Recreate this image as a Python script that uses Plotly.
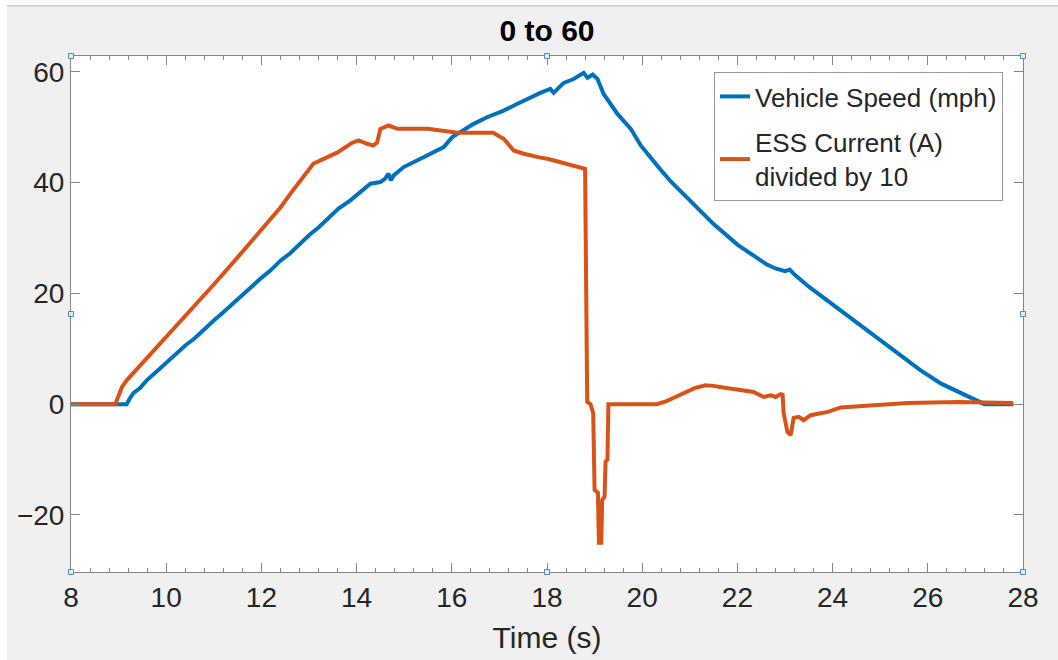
import plotly.graph_objects as go

# Vehicle speed trace (time in s, speed in mph)
speed_t = [8.0, 9.17, 9.24, 9.31, 9.45, 9.59, 9.8, 10.0, 10.2, 10.4, 10.6, 10.8, 11.0,
           11.2, 11.4, 11.6, 11.8, 12.0, 12.2, 12.4, 12.6, 12.8, 13.0, 13.2, 13.4,
           13.62, 13.87, 14.08, 14.18, 14.29, 14.5, 14.6, 14.67, 14.72, 14.78, 14.99,
           15.27, 15.55, 15.83, 16.01, 16.22, 16.46, 16.74, 17.09, 17.37, 17.51, 17.86,
           18.07, 18.14, 18.35, 18.56, 18.77, 18.85, 18.96, 19.06, 19.19, 19.48, 19.76,
           19.97, 20.35, 20.6, 21.0, 21.5, 22.0, 22.3, 22.6, 22.8, 23.0, 23.1, 23.2,
           23.5, 24.0, 24.5, 25.0, 25.5, 25.85, 26.28, 26.7, 26.98, 27.19, 27.8]
speed_mph = [0.0, 0.0, 1.1, 2.0, 2.9, 4.3, 5.9, 7.5, 8.9, 10.6, 11.9, 13.6, 15.1,
             16.6, 18.2, 19.6, 21.2, 22.8, 24.2, 25.9, 27.2, 28.9, 30.5, 31.9, 33.6,
             35.3, 36.8, 38.3, 38.9, 39.8, 40.1, 40.7, 41.6, 40.4, 41.3, 42.8,
             44.0, 45.2, 46.4, 48.2, 49.4, 50.6, 51.8, 53.0, 54.2, 54.8, 56.2,
             56.9, 56.2, 58.0, 58.7, 59.8, 58.9, 59.5, 58.7, 56.0, 52.4, 49.7,
             46.7, 42.7, 40.2, 36.8, 32.5, 28.8, 27.0, 25.3, 24.5, 24.0, 24.3, 23.4,
             21.2, 18.0, 14.8, 11.6, 8.4, 6.1, 3.7, 1.9, 0.7, 0.0, 0.0]

# ESS current trace, scaled down by 10 (time in s, A/10)
current_t = [8.0, 8.93, 8.99, 9.07, 9.17, 9.5, 10.0, 10.5, 11.0, 11.5, 12.0, 12.4,
             12.61, 12.88, 13.09, 13.24, 13.59, 13.91, 14.04, 14.22, 14.35, 14.43,
             14.5, 14.67, 14.86, 15.49, 16.12, 16.87, 17.09, 17.3, 17.51, 17.86, 18.01,
             18.4, 18.7, 18.8, 18.845, 18.915, 18.97, 19.0, 19.07, 19.09, 19.14, 19.16,
             19.21, 19.23, 19.27, 19.29, 20.3, 20.5, 20.7, 20.9, 21.1, 21.33, 21.5,
             21.7, 21.9, 22.07, 22.34, 22.55, 22.7, 22.8, 22.91, 22.95, 22.97, 23.05,
             23.12, 23.18, 23.29, 23.39, 23.54, 23.9, 24.17, 24.87, 25.58, 26.63, 27.79]
current_div10 = [0.0, 0.0, 1.3, 3.1, 4.3, 7.4, 12.0, 16.8, 21.6, 26.5, 31.4, 35.5,
                 38.0, 40.9, 43.4, 44.0, 45.4, 47.2, 47.6, 47.0, 46.7, 47.2,
                 49.7, 50.3, 49.7, 49.7, 49.0, 49.0, 47.9, 45.8, 45.2, 44.5, 44.3,
                 43.4, 42.7, 42.5, 0.4, 0.0, -1.6, -15.5, -16.0, -25.0, -25.0, -17.3,
                 -16.7, -10.4, -10.0, 0.0, 0.0, 0.5, 1.3, 2.2, 2.9, 3.4, 3.3,
                 3.0, 2.8, 2.5, 2.2, 1.3, 1.6, 1.3, 1.8, 1.7, -1.5, -5.0,
                 -5.6, -2.5, -2.3, -2.9, -2.0, -1.4, -0.6, -0.2, 0.2, 0.4, 0.2]

series_names = ["Vehicle Speed (mph)", "ESS Current (A)<br>divided by 10"]
series_colors = ["#0072BD", "#D95319"]

# figure geometry (pixels)
FIG_W, FIG_H = 1058, 660
M_L, M_R, M_T, M_B = 71, 35, 56, 88
PW = FIG_W - M_L - M_R
PH = FIG_H - M_T - M_B


def px_x(px):
    return (px - M_L) / PW


def px_y(py):
    return (FIG_H - M_B - py) / PH


AXIS_GRAY = "#858585"
TEXT_DARK = "#262626"
FONT = "Liberation Sans, Arial, Helvetica, sans-serif"

fig = go.Figure()
fig.add_trace(go.Scatter(x=speed_t, y=speed_mph, mode="lines", name=series_names[0],
                         legendgroup="speed",
                         line=dict(color=series_colors[0], width=4)))
fig.add_trace(go.Scatter(x=current_t, y=current_div10, mode="lines", name=series_names[1],
                         legendgroup="current",
                         line=dict(color=series_colors[1], width=4)))

axis_common = dict(
    showgrid=False, zeroline=False, showline=True, linecolor=AXIS_GRAY, linewidth=1,
    mirror="ticks", ticks="inside", ticklen=9, tickwidth=1, tickcolor=AXIS_GRAY,
    tickfont=dict(family=FONT, size=28, color=TEXT_DARK),
)

fig.update_layout(
    width=FIG_W, height=FIG_H,
    margin=dict(l=M_L, r=M_R, t=M_T, b=M_B, pad=0),
    paper_bgcolor="#f0f0f0", plot_bgcolor="white",
    font=dict(family=FONT, color=TEXT_DARK),
    title=dict(text="<b>0 to 60</b>", x=0.5, xref="paper", xanchor="center",
               y=1 - 30 / FIG_H, yref="container", yanchor="middle",
               font=dict(family=FONT, size=30, color="black")),
    xaxis=dict(range=[8, 28], tick0=0, dtick=2,
               minor=dict(tick0=0, dtick=0.4, ticks="inside", ticklen=4, tickcolor=AXIS_GRAY),
               title=dict(text="Time (s)", font=dict(family=FONT, size=30, color=TEXT_DARK)),
               **axis_common),
    yaxis=dict(range=[-30.3, 62.85], tick0=0, dtick=20, **axis_common),
    legend=dict(x=px_x(1003), xanchor="right", y=px_y(72), yanchor="top",
                bgcolor="white", bordercolor="#9a9a9a", borderwidth=1,
                tracegroupgap=9,
                font=dict(family=FONT, size=26, color=TEXT_DARK)),
    showlegend=True,
)

shapes = []
# window edge strips
shapes.append(dict(type="rect", xref="paper", yref="paper", layer="above",
                   x0=px_x(0), x1=px_x(7), y0=px_y(FIG_H), y1=px_y(0),
                   fillcolor="white", line=dict(width=0)))
shapes.append(dict(type="rect", xref="paper", yref="paper", layer="above",
                   x0=px_x(0), x1=px_x(FIG_W), y0=px_y(5), y1=px_y(0),
                   fillcolor="white", line=dict(width=0)))
shapes.append(dict(type="line", xref="paper", yref="paper", layer="above",
                   x0=px_x(7), x1=px_x(FIG_W), y0=px_y(5.8), y1=px_y(5.8),
                   line=dict(color="#cccccc", width=1.5)))
# selection handles around the axes box
for hx in (0, 0.5, 1):
    for hy in (0, 0.5, 1):
        if hx == 0.5 and hy == 0.5:
            continue
        shapes.append(dict(type="rect", xref="paper", yref="paper", layer="above",
                           xsizemode="pixel", ysizemode="pixel", xanchor=hx, yanchor=hy,
                           x0=-2.5, x1=2.5, y0=-2.5, y1=2.5,
                           fillcolor="#e4eef9", line=dict(color="#4a8ad4", width=1)))
fig.update_layout(shapes=shapes)

fig.write_html("out.html")
